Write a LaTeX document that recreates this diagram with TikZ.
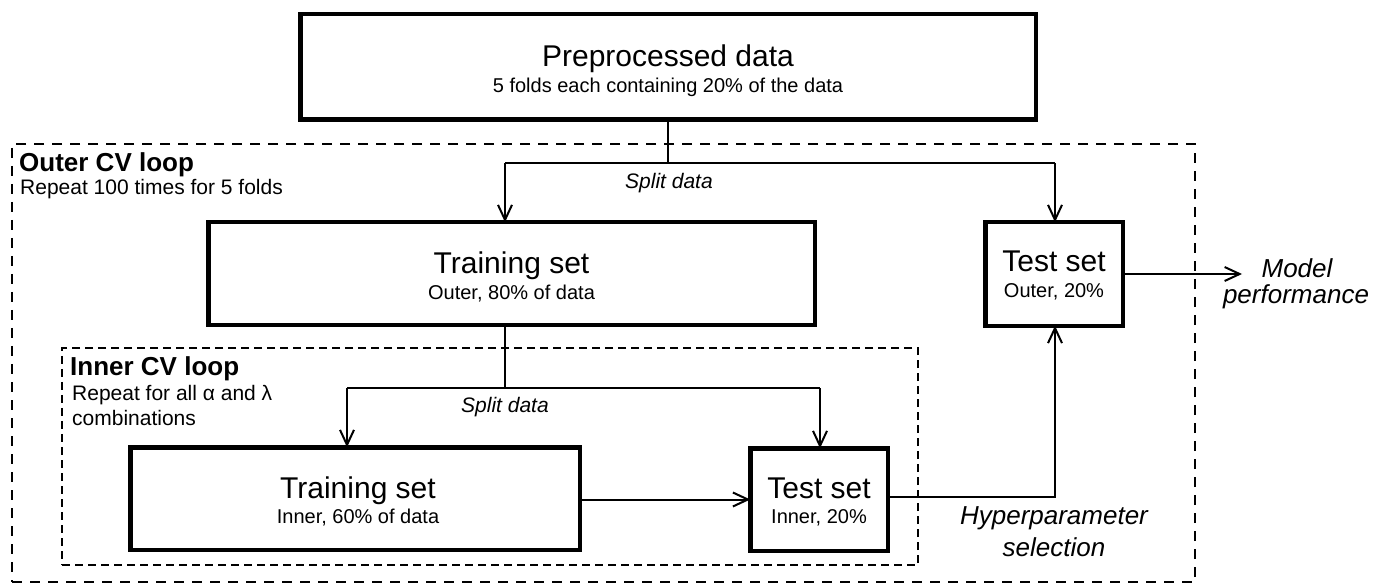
\documentclass[tikz,border=0pt]{standalone}
\usepackage{fontspec}
\setmainfont{Liberation Sans}
\usetikzlibrary{arrows.meta}
\newcommand\fsz[1]{\fontsize{#1}{#1}\selectfont}
\begin{document}
\begin{tikzpicture}[x=1pt,y=-1pt,
  box/.style={draw, line width=4.5pt, inner sep=0pt, outer sep=0pt},
  ttl/.style={font=\fsz{30}, inner sep=0pt, anchor=base},
  subt/.style={font=\fsz{20}, inner sep=0pt, anchor=base},
  lbl/.style={inner sep=0pt, anchor=base west},
  ital/.style={font=\fsz{26}\itshape, inner sep=0pt, anchor=base},
  conn/.style={line width=2pt},
  arr/.style={conn, -{Straight Barb[length=15pt,width=14pt,line width=2pt]}},
  outerloop/.style={draw, dash pattern=on 10pt off 8pt, line width=2.5pt, inner sep=0pt, outer sep=0pt},
  innerloop/.style={draw, dash pattern=on 8pt off 5pt, line width=2.5pt, inner sep=0pt, outer sep=0pt}
]
\fill[white] (0,0) rectangle (1385,588);
\useasboundingbox (0,0) rectangle (1385,588);

% loops
\node[outerloop, minimum width=1183pt, minimum height=438pt] (outer) at (603.5,363) {};
\node[innerloop, minimum width=856pt, minimum height=217pt] (inner) at (490,456.5) {};

% boxes
\node[box, minimum width=735.5pt, minimum height=105.5pt] (pre) at (668,67) {};
\node[box, minimum width=606.5pt, minimum height=102.5pt] (trainO) at (511.5,273.5) {};
\node[box, minimum width=137.5pt, minimum height=103.5pt] (testO) at (1054,274) {};
\node[box, minimum width=449.5pt, minimum height=102.5pt] (trainI) at (355,498.5) {};
\node[box, minimum width=137.5pt, minimum height=102.5pt] (testI) at (819,499.5) {};

% box texts
\node[ttl] (preT) at (668,67) {Preprocessed data};
\node[subt] (preS) at (668,93) {5 folds each containing 20\% of the data};
\node[ttl] (trainOT) at (511.5,273) {Training set};
\node[subt] (trainOS) at (511.5,299) {Outer, 80\% of data};
\node[ttl] (testOT) at (1054,272) {Test set};
\node[subt] (testOS) at (1054,298) {Outer, 20\%};
\node[ttl] (trainIT) at (358,498) {Training set};
\node[subt] (trainIS) at (358,523) {Inner, 60\% of data};
\node[ttl] (testIT) at (819,498) {Test set};
\node[subt] (testIS) at (819,523) {Inner, 20\%};

% loop labels
\node[lbl, font=\fsz{26}\bfseries] (outerT) at (19,172) {Outer CV loop};
\node[lbl, font=\fsz{21}] (outerS) at (20,195) {Repeat 100 times for 5 folds};
\node[lbl, font=\fsz{26}\bfseries] (innerT) at (70,375) {Inner CV loop};
\node[lbl, font=\fsz{21}] (innerS1) at (72,400) {Repeat for all α and λ};
\node[lbl, font=\fsz{21}] (innerS2) at (72,425) {combinations};

% outer split
\coordinate (j1) at (668,163);
\coordinate (jl) at (505,163);
\coordinate (jr) at (1055,163);
\draw[conn] (pre.south) -- (j1);
\draw[conn] (jl) -- (jr);
\draw[arr] (jl) -- (jl |- trainO.north);
\draw[arr] (jr) -- (jr |- testO.north);
\node[lbl, font=\fsz{21}\itshape] (split1) at (625,189) {Split data};

% inner split
\coordinate (k1) at (505,388);
\coordinate (kl) at (347,388);
\coordinate (kr) at (820,388);
\draw[conn] (k1 |- trainO.south) -- (k1);
\draw[conn] (kl) -- (kr);
\draw[arr] (kl) -- (kl |- trainI.north);
\draw[arr] (kr) -- (kr |- testI.north);
\node[font=\fsz{21}\itshape, inner sep=0pt, anchor=base] (split2) at (505,412) {Split data};

% inner train -> inner test
\draw[arr] (trainI.east |- testI.west) -- (testI.west);

% inner test -> outer test
\coordinate (h1) at (1055,497);
\draw[arr] (testI.east |- h1) -- (h1) -- (h1 |- testO.south);
\node[ital] (hyp1) at (1054,524) {Hyperparameter};
\node[ital] (hyp2) at (1054,556) {selection};

% outer test -> model performance
\coordinate (mp) at (1242,274);
\draw[arr] (testO.east) -- (mp);
\node[ital] (mod1) at (1297,277) {Model};
\node[ital] (mod2) at (1296,303) {performance};
\end{tikzpicture}
\end{document}
